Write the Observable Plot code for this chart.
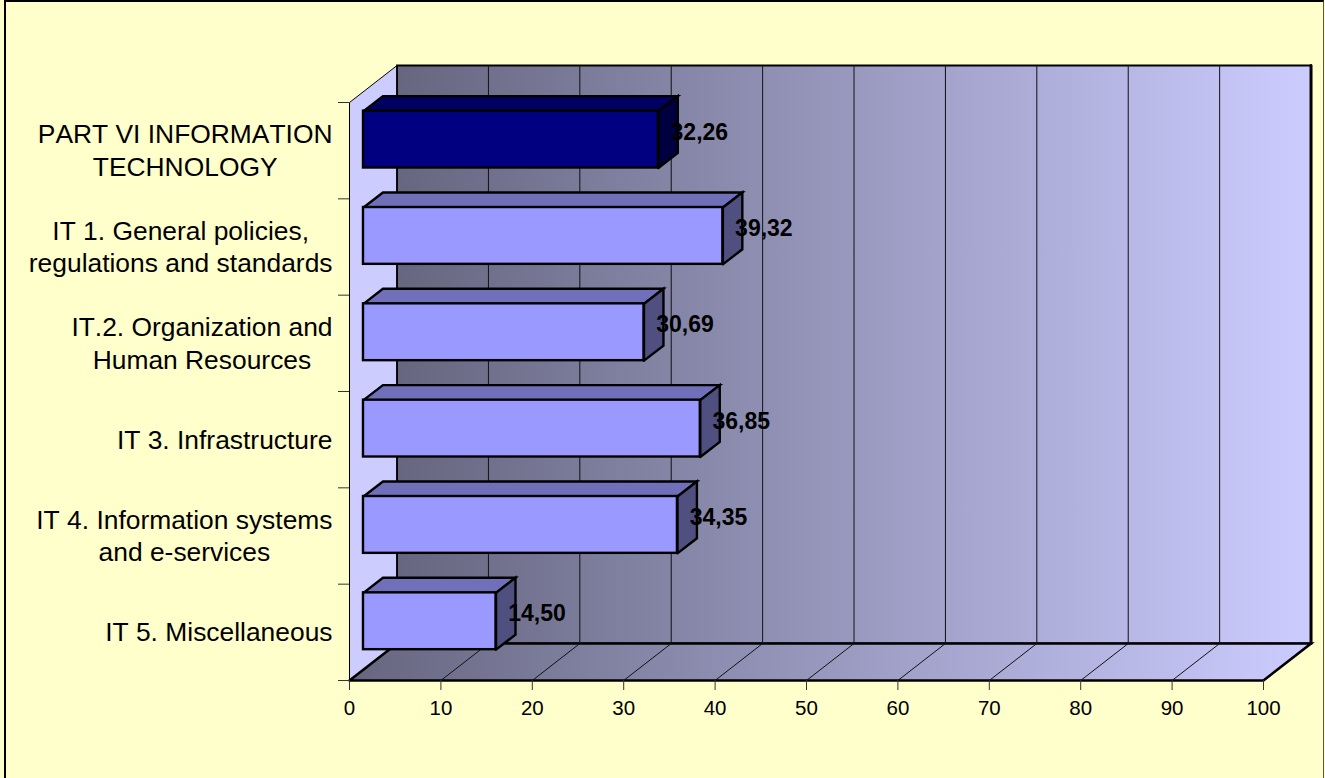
<!DOCTYPE html>
<html>
<head>
<meta charset="utf-8">
<script src="https://cdn.jsdelivr.net/npm/d3@7"></script>
<script src="https://cdn.jsdelivr.net/npm/@observablehq/plot@0.6"></script>
<style>
html,body{margin:0;padding:0;background:#FFFFCC;overflow:hidden}
#frame{position:absolute;left:4px;top:0;width:1320px;height:778px;border-top:2px solid #000;border-left:2px solid #000;border-right:1px solid #555;box-sizing:border-box;pointer-events:none}
svg{display:block}
svg text{font-kerning:none}
</style>
</head>
<body>
<div id="chart"></div>
<div id="frame"></div>
<script>
const categories = [
  "PART VI INFORMATION\nTECHNOLOGY",
  "IT 1. General policies,\nregulations and standards",
  "IT.2. Organization and\nHuman Resources",
  "IT 3. Infrastructure",
  "IT 4. Information systems\nand e-services",
  "IT 5. Miscellaneous"
];
const values = [32.26, 39.32, 30.69, 36.85, 34.35, 14.50];
const valueLabels = ["32,26", "39,32", "30,69", "36,85", "34,35", "14,50"];
const xTicks = [0,10,20,30,40,50,60,70,80,90,100];
const yTicks = [0,1,2,3,4,5,6];

const font = '"Liberation Sans", Arial, sans-serif';
const catSize = 26.4, tickFont = 20.5, valSize = 23;

// 3-D depth of the chart box and of the bars, in data units
const DX = 5.2, DY = 0.384;            // box depth
const BX = 2.13, BY = 0.156;           // bar depth
const X0 = 1.53;                       // bar start
const B0 = 0.32, B1 = 0.91;            // bar extent inside a band

const poly = pts => [...pts, pts[0]].map(([x,y]) => ({x,y}));
const rows = values.map((v,i) => {
  const b = 5 - i;
  return {v, i, b, x1:X0, x2:X0+v, y1:b+B0, y2:b+B1, main:i===0};
});
const pick = f => rows.flatMap(f);
const topFace = r => poly([[r.x1,r.y2],[r.x2,r.y2],[r.x2+BX,r.y2+BY],[r.x1+BX,r.y2+BY]]).map(p=>({...p,id:r.i,main:r.main}));
const sideFace = r => poly([[r.x2,r.y1],[r.x2+BX,r.y1+BY],[r.x2+BX,r.y2+BY],[r.x2,r.y2]]).map(p=>({...p,id:r.i,main:r.main}));
const lineOpts = extra => ({x:"x",y:"y",curve:"linear",strokeLinejoin:"miter",strokeMiterlimit:4,...extra});

const measure = document.createElement("canvas").getContext("2d");
measure.font = `${catSize}px "Liberation Sans"`;
measure.fontKerning = "none";
const blockWidth = s => Math.max(...s.split("\n").map(l => measure.measureText(l).width));

const svg = Plot.plot({
  width:1325, height:778,
  marginLeft:349, marginRight:62, marginTop:102, marginBottom:98,
  x:{domain:[0,100]},
  y:{domain:[0,6]},
  style:{background:"transparent",fontFamily:font,color:"#000",overflow:"visible"},
  marks:[
    // left wall
    Plot.line(poly([[0,0],[0,6],[DX,6+DY],[DX,DY]]),lineOpts({fill:"#CCCCFF",stroke:"#000",strokeWidth:1})),
    // back wall
    Plot.line(poly([[DX,DY],[DX,6+DY],[100+DX,6+DY],[100+DX,DY]]),lineOpts({fill:"url(#wallGrad)",stroke:"#000",strokeWidth:1.8})),
    // floor
    Plot.line(poly([[0,0],[100,0],[100+DX,DY],[DX,DY]]),lineOpts({fill:"url(#wallGrad)",stroke:"#000",strokeWidth:2.6})),
    // grid on the wall and the floor
    Plot.ruleX(xTicks.slice(1,-1),{x:d=>d+DX,y1:DY,y2:6+DY,stroke:"#111",strokeWidth:1}),
    Plot.line(xTicks.slice(1,-1).flatMap(t=>[{x:t,y:0,t},{x:t+DX,y:DY,t}]),lineOpts({z:"t",stroke:"#111",strokeWidth:1})),
    // thick edges
    Plot.line(poly([[100+DX,DY],[100+DX,6+DY]]).slice(0,2),lineOpts({stroke:"#000",strokeWidth:3})),
    // bars: top and side faces
    Plot.line(pick(r=>r.main?[]:topFace(r)),lineOpts({z:"id",fill:"#6F6FBA",stroke:"#000",strokeWidth:2.4})),
    Plot.line(pick(r=>r.main?[]:sideFace(r)),lineOpts({z:"id",fill:"#4F4F80",stroke:"#000",strokeWidth:2.4})),
    Plot.line(pick(r=>r.main?topFace(r):[]),lineOpts({z:"id",fill:"#000060",stroke:"#000",strokeWidth:2.4})),
    Plot.line(pick(r=>r.main?sideFace(r):[]),lineOpts({z:"id",fill:"#000040",stroke:"#000",strokeWidth:2.4})),
    // bars: front face
    Plot.rect(rows,{x1:"x1",x2:"x2",y1:"y1",y2:"y2",fill:r=>r.main?"#000080":"#9999FF",stroke:"#000",strokeWidth:2.4}),
    // axes
    Plot.axisX({ticks:xTicks,tickFormat:d=>String(d),tickSize:10,tickPadding:10,fontSize:tickFont,stroke:"#333",label:null,anchor:"bottom"}),
    Plot.axisY({ticks:yTicks,tickFormat:()=>"",tickSize:11,stroke:"#333",label:null,anchor:"left"}),
    // category labels
    ...categories.map((c,i)=>Plot.text([c],{
      x:()=>0,y:()=>5.5-i,text:d=>d,dx:-17-blockWidth(c)/2,dy:-1.5,textAnchor:"middle",lineAnchor:"middle",
      fontSize:catSize,lineHeight:1.235,fill:"#000"
    })),
    // value labels
    Plot.text(rows,{x:r=>r.v,y:r=>r.b+0.5,text:r=>valueLabels[r.i],dx:55,dy:-18.5,textAnchor:"middle",lineAnchor:"middle",
      fontSize:valSize,fontWeight:"bold",fill:"#000"})
  ]
});

const defs = d3.select(svg).insert("defs",":first-child");
const g = defs.append("linearGradient").attr("id","wallGrad").attr("x1","0").attr("x2","1").attr("y1","0").attr("y2","0");
g.append("stop").attr("offset","0").attr("stop-color","#666680");
g.append("stop").attr("offset","1").attr("stop-color","#CCCCFF");

document.getElementById("chart").appendChild(svg);
</script>
</body>
</html>
